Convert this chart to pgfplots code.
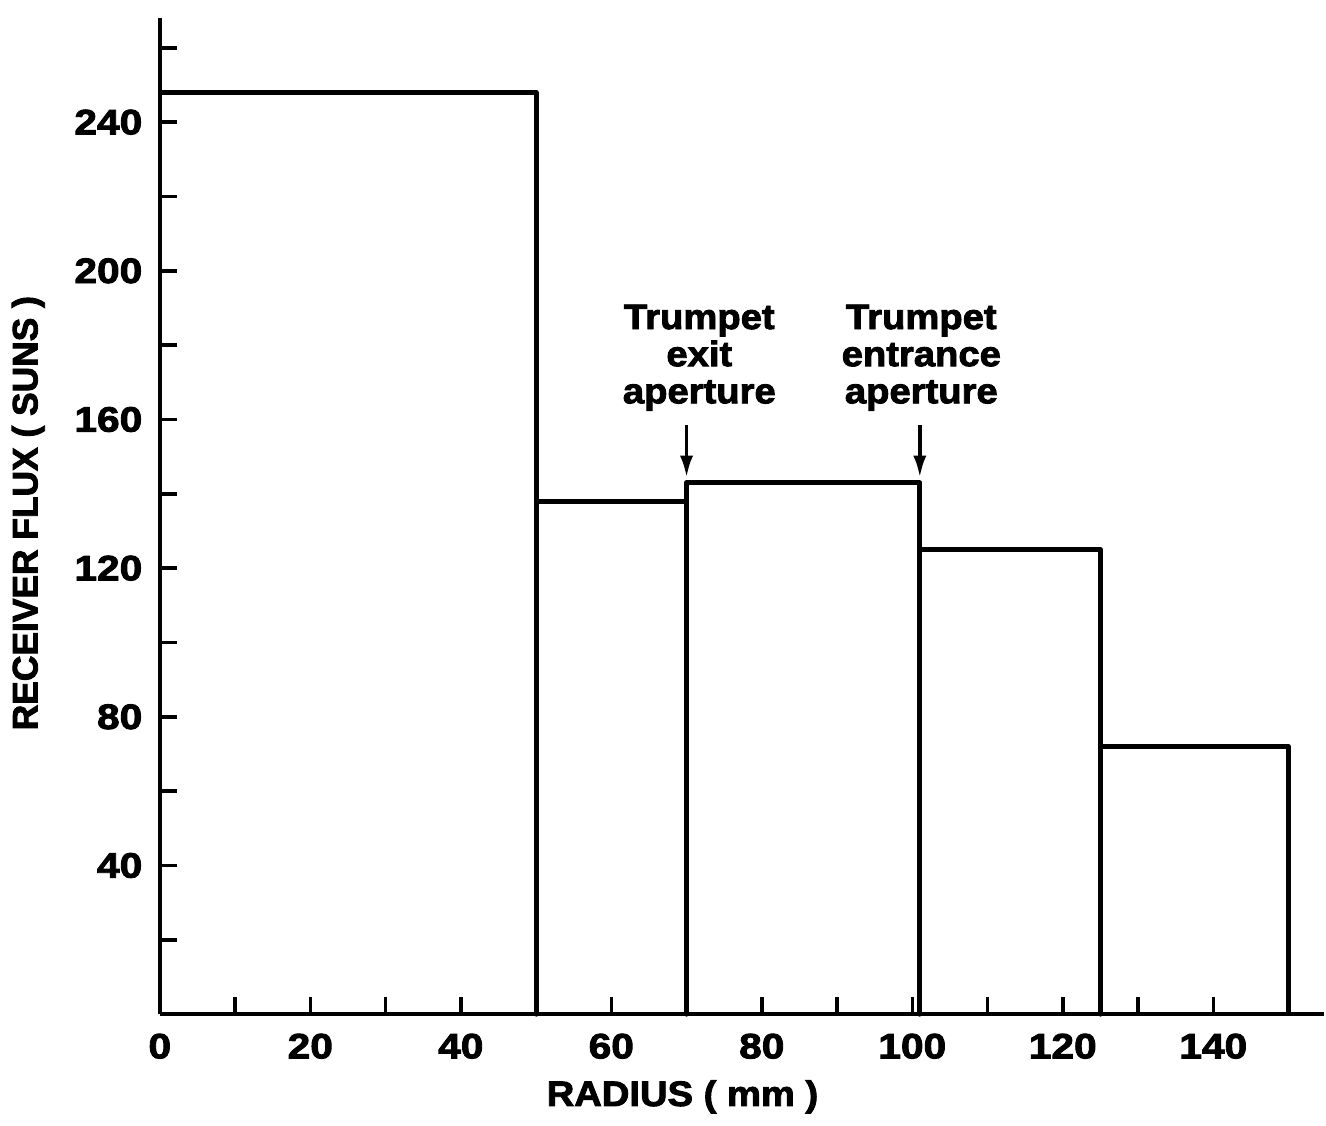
\documentclass[border=0pt]{standalone}
\usepackage{fontspec}
\setmainfont{Liberation Sans}[FakeStretch=1.15, BoldFeatures={FakeBold=2.5}]
\newfontfamily\lblfont{Liberation Sans}[FakeStretch=1.08, BoldFeatures={FakeBold=2.5}]
\newfontfamily\ylfont{Liberation Sans}[BoldFeatures={FakeBold=2.5}]
\usepackage{pgfplots}
\pgfplotsset{compat=1.18}
\usetikzlibrary{arrows.meta}

\begin{document}
\begin{tikzpicture}
\begin{axis}[
    scale only axis,
    width=11.57cm,
    height=9.9cm,
    xmin=0, xmax=154.7,
    ymin=0, ymax=268,
    axis x line=bottom,
    axis y line=left,
    axis line style={-, line width=1.2pt},
    tick align=inside,
    major tick length=0.17cm,
    minor tick length=0.17cm,
    tick style={line width=1pt, black},
    xtick={0,20,...,140},
    minor xtick={10,30,...,150},
    ytick={40,80,...,240},
    minor ytick={20,60,...,260},
    font=\fontsize{10}{12}\selectfont\bfseries,
    /pgf/number format/assume math mode=true,
    xticklabel style={yshift=-0.07cm},
    yticklabel style={xshift=-0.05cm},
    xlabel={RADIUS ( mm )},
    ylabel={RECEIVER FLUX ( SUNS )},
    xlabel style={at={(axis description cs:0.449,-0.083)}, anchor=center,
        font=\lblfont\fontsize{10}{12}\selectfont\bfseries},
    ylabel style={at={(axis description cs:-0.113,0.503)}, anchor=center,
        font=\ylfont\fontsize{10}{12}\selectfont\bfseries},
    clip=false,
]
% receiver flux per radial zone
\addplot[black, line width=1.4pt, line join=round] coordinates {
    (0,248) (50,248) (50,0) (50,138) (70,138) (70,0) (70,143)
    (101,143) (101,0) (101,125) (125,125) (125,0) (125,72) (150,72) (150,0)
};
\node[align=center, inner sep=0pt, anchor=south,
      font=\lblfont\fontsize{10}{10.5}\selectfont\bfseries]
    at (axis cs:71.7,162.2) {Trumpet\\exit\\aperture};
\node[align=center, inner sep=0pt, anchor=south,
      font=\lblfont\fontsize{10}{10.5}\selectfont\bfseries]
    at (axis cs:101.2,162.2) {Trumpet\\entrance\\aperture};
\draw[-{Latex[length=0.22cm,width=0.13cm]}, line width=1.1pt] (axis cs:70,158.4) -- (axis cs:70,144.3);
\draw[-{Latex[length=0.22cm,width=0.13cm]}, line width=1.1pt] (axis cs:101,158.4) -- (axis cs:101,144.3);
% room above the y axis, as in the original
\path (axis description cs:0,1) ++(0,0.18cm);
\end{axis}
\end{tikzpicture}
\end{document}
